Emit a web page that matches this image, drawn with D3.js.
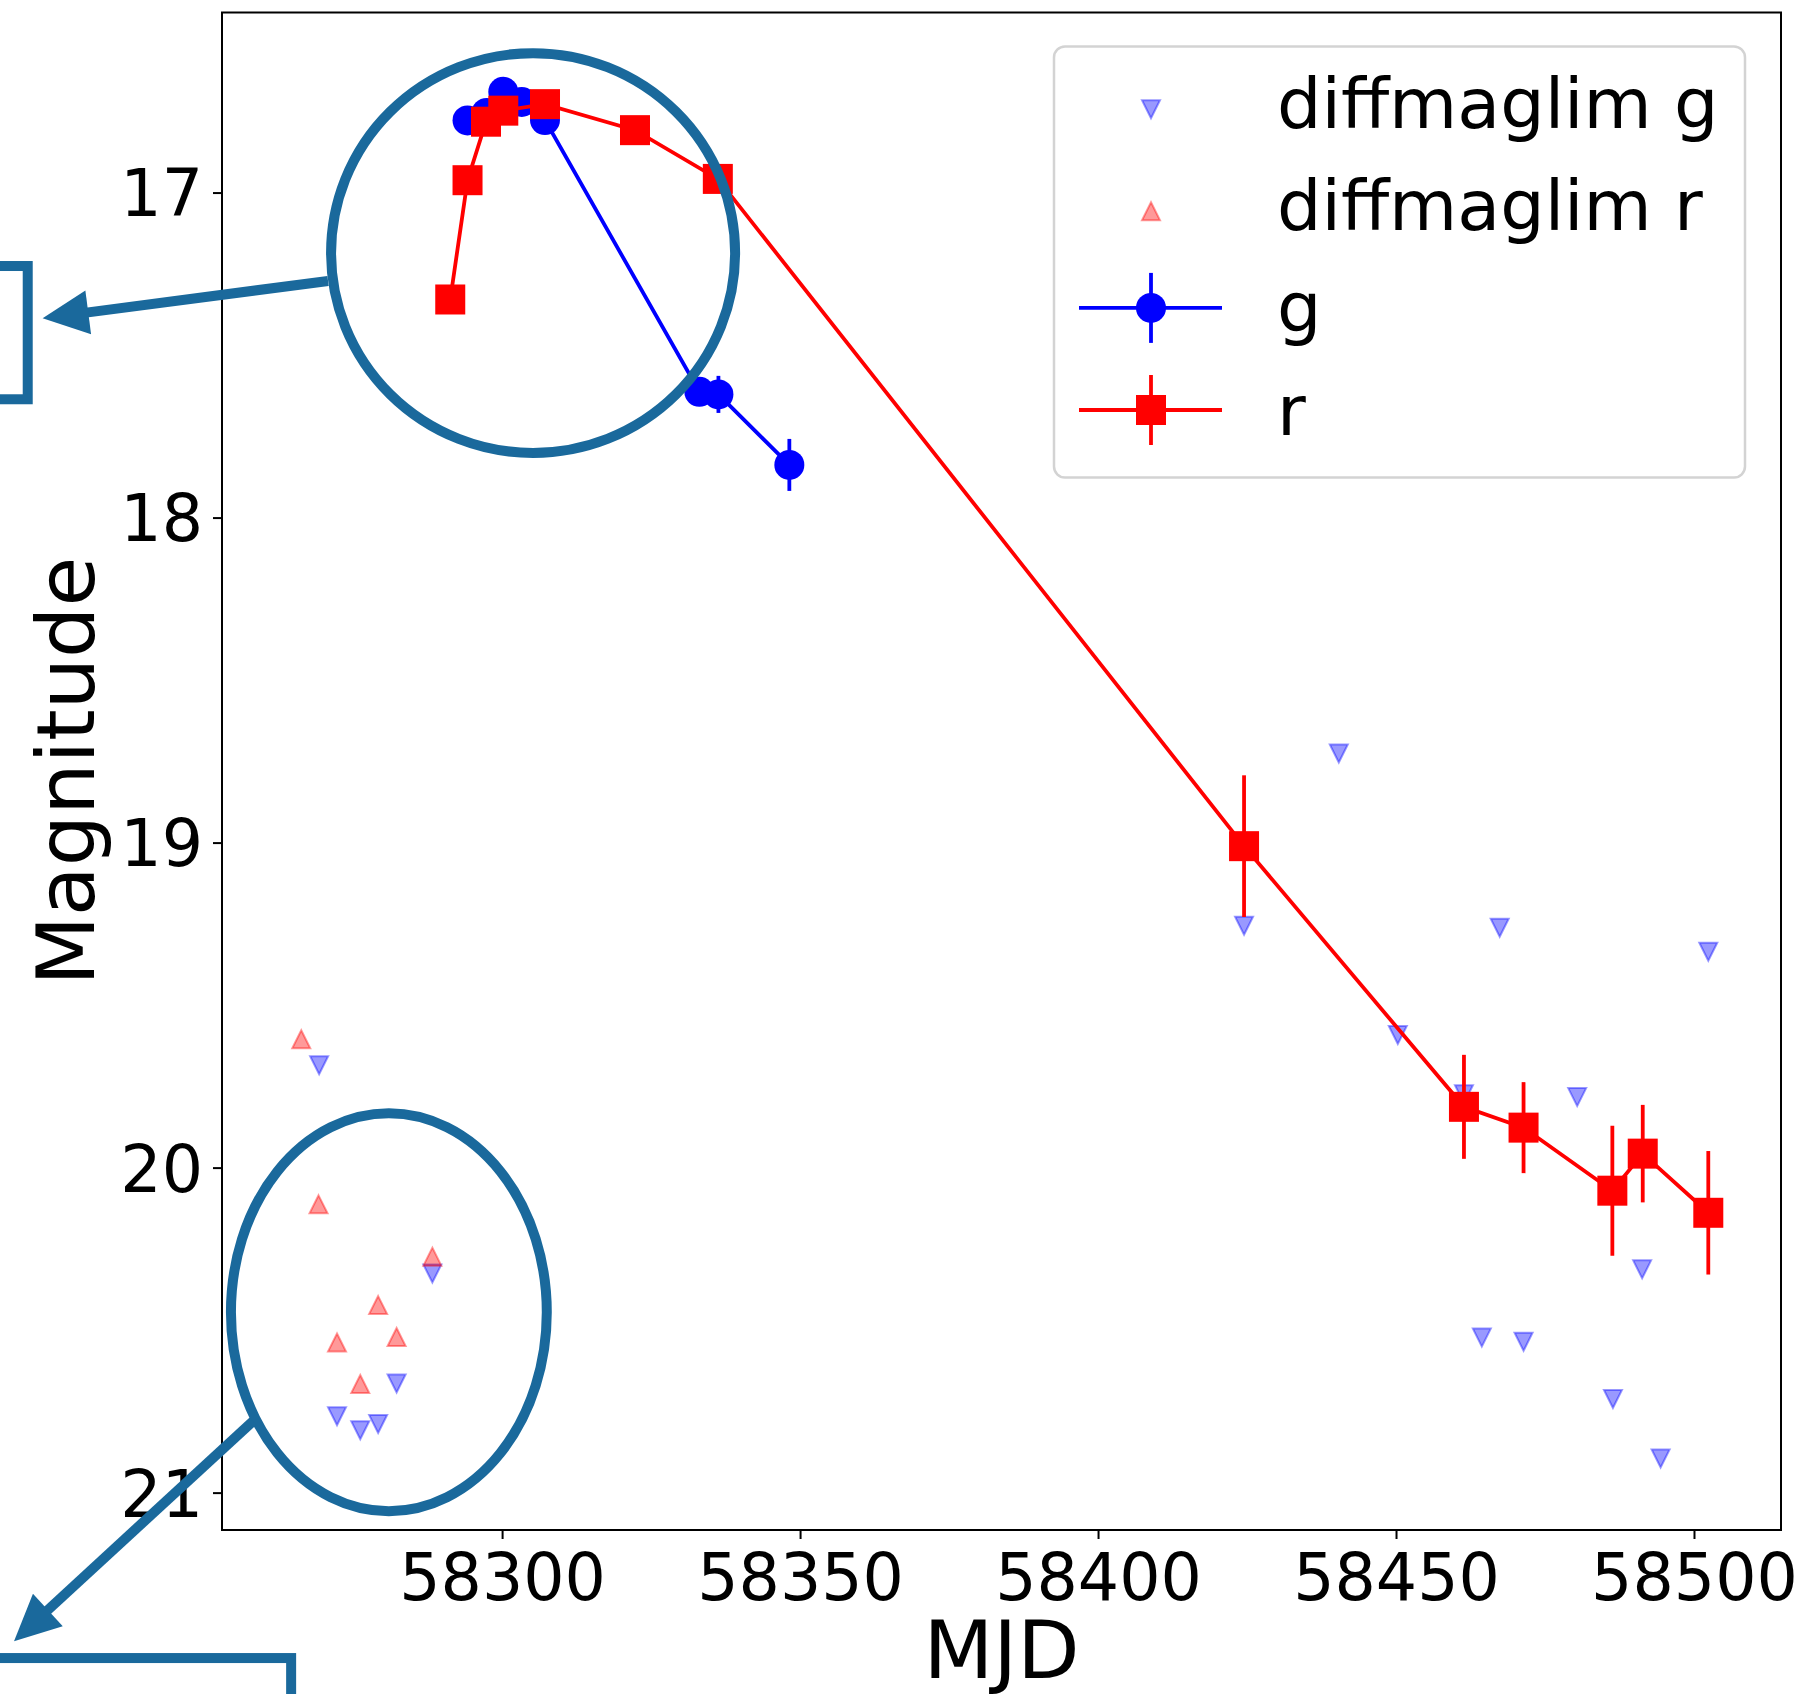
<!DOCTYPE html>
<html>
<head>
<meta charset="utf-8">
<script src="https://cdn.jsdelivr.net/npm/d3@7"></script>
<style>
  html, body { margin: 0; padding: 0; background: #fff; }
  svg { display: block; }
  text { font-family: "DejaVu Sans", sans-serif; }
</style>
</head>
<body>
<svg id="chart" width="1804" height="1694"></svg>
<script>
// ---- photometry: g-band detections ----
const gMjd = [58294.2, 58297.4, 58300.2, 58303.3, 58307.2, 58333.1, 58336.3, 58348.2];
const gMag = [16.778, 16.755, 16.690, 16.721, 16.777, 17.613, 17.621, 17.838];
const gErr = [0.02, 0.02, 0.02, 0.02, 0.02, 0.04, 0.057, 0.08];

// ---- photometry: r-band detections ----
const rMjd = [58291.3, 58294.2, 58297.3, 58300.2, 58307.2, 58322.3, 58336.2,
              58424.5, 58461.4, 58471.4, 58486.3, 58491.4, 58502.4];
const rMag = [17.329, 16.962, 16.782, 16.748, 16.728, 16.808, 16.958,
              19.011, 19.813, 19.877, 20.071, 19.957, 20.139];
const rErr = [0.02, 0.02, 0.02, 0.02, 0.02, 0.02, 0.03,
              0.218, 0.16, 0.14, 0.20, 0.15, 0.19];

// ---- upper limits (diffmaglim) ----
const limGMjd = [58269.3, 58272.3, 58276.2, 58279.2, 58282.3, 58288.3,
                 58424.5, 58440.4, 58450.3, 58461.4, 58464.4, 58467.4,
                 58471.4, 58480.4, 58486.4, 58491.3, 58494.4, 58502.4];
const limGMag = [19.685, 20.765, 20.808, 20.789, 20.664, 20.326,
                 19.256, 18.726, 19.592, 19.774, 20.523, 19.262,
                 20.536, 19.783, 20.712, 20.313, 20.895, 19.336];
const limRMjd = [58266.3, 58269.2, 58272.3, 58276.2, 58279.2, 58282.3, 58288.3];
const limRMag = [19.605, 20.113, 20.538, 20.666, 20.423, 20.521, 20.274];

// ---- axis ticks and labels ----
const xTicks = [58300, 58350, 58400, 58450, 58500];
const yTicks = [17, 18, 19, 20, 21];
const xLabel = "MJD";
const yLabel = "Magnitude";
const legendLabels = ["diffmaglim g", "diffmaglim r", "g", "r"];

// ---- highlight callouts, in data units (MJD, mag) ----
const ellipses = [
  { cx: 58305.2, cy: 17.186, rx: 33.9, ry: 0.615 },
  { cx: 58281.0, cy: 20.445, rx: 26.5, ry: 0.612 }
];
const arrows = [
  { x0: 58270.8, y0: 17.272, x1: 58222.9, y1: 17.387 },
  { x0: 58258.2, y0: 20.780, x1: 58218.1, y1: 21.457 }
];
const boxes = [
  { x0: 58190.0, x1: 58220.4, y0: 17.226, y1: 17.636 },
  { x0: 58190.0, x1: 58264.6, y0: 21.509, y1: 22.300 }
];

// ---- layout ----
const plot = { left: 222, right: 1781, top: 12.5, bottom: 1530 };
const x = d3.scaleLinear().domain([58253.0, 58514.6]).range([plot.left, plot.right]);
const y = d3.scaleLinear().domain([16.446, 21.115]).range([plot.top, plot.bottom]);

const BLUE = "#0000ff", RED = "#ff0000", CALLOUT = "#1a699c";
const MS = 30;      // detection marker size
const TS = 18;      // limit triangle size
const LW = 3.8;     // line width

const svg = d3.select("#chart");

function triPath(dir, s) {
  const h = s / 2;
  return dir === "down"
    ? `M${-h},${-h}L${h},${-h}L0,${h}Z`
    : `M0,${-h}L${h},${h}L${-h},${h}Z`;
}

// ---- axes ----
const xAxis = svg.append("g")
  .attr("transform", `translate(0,${plot.bottom})`)
  .call(d3.axisBottom(x).tickValues(xTicks).tickFormat(d3.format("d")).tickSize(9));
xAxis.select(".domain").remove();
xAxis.selectAll(".tick line").attr("stroke", "#000").attr("stroke-width", 2);
xAxis.selectAll(".tick text")
  .attr("y", 70).attr("dy", 0)
  .attr("font-size", 65).attr("fill", "#000")
  .style("font-family", '"DejaVu Sans", sans-serif');

const yAxis = svg.append("g")
  .attr("transform", `translate(${plot.left},0)`)
  .call(d3.axisLeft(y).tickValues(yTicks).tickFormat(d3.format("d")).tickSize(9));
yAxis.select(".domain").remove();
yAxis.selectAll(".tick line").attr("stroke", "#000").attr("stroke-width", 2);
yAxis.selectAll(".tick text")
  .attr("x", -19).attr("dy", "0.36em")
  .attr("font-size", 65).attr("fill", "#000")
  .style("font-family", '"DejaVu Sans", sans-serif');

svg.append("text")
  .attr("x", (plot.left + plot.right) / 2).attr("y", 1678)
  .attr("text-anchor", "middle").attr("font-size", 81).text(xLabel);
svg.append("text")
  .attr("transform", `translate(94,${(plot.top + plot.bottom) / 2}) rotate(-90)`)
  .attr("text-anchor", "middle").attr("font-size", 81).text(yLabel);

// ---- plotting area ----
const area = svg.append("g");

// upper limits
const limG = limGMjd.map((m, i) => ({ m, v: limGMag[i] }));
const limR = limRMjd.map((m, i) => ({ m, v: limRMag[i] }));

area.append("g").selectAll("path").data(limG).join("path")
  .attr("transform", d => `translate(${x(d.m)},${y(d.v)})`)
  .attr("d", triPath("down", TS))
  .attr("fill", BLUE).attr("fill-opacity", 0.4)
  .attr("stroke", BLUE).attr("stroke-opacity", 0.4).attr("stroke-width", 2);

area.append("g").selectAll("path").data(limR).join("path")
  .attr("transform", d => `translate(${x(d.m)},${y(d.v)})`)
  .attr("d", triPath("up", TS))
  .attr("fill", RED).attr("fill-opacity", 0.4)
  .attr("stroke", RED).attr("stroke-opacity", 0.4).attr("stroke-width", 2);

// detections with error bars
function drawSeries(mjd, mag, err, color, shape) {
  const pts = mjd.map((m, i) => ({ m, v: mag[i], e: err[i] }));
  const g = area.append("g");
  g.append("path").datum(pts)
    .attr("d", d3.line().x(d => x(d.m)).y(d => y(d.v)))
    .attr("fill", "none").attr("stroke", color).attr("stroke-width", LW);
  g.append("g").selectAll("line").data(pts).join("line")
    .attr("x1", d => x(d.m)).attr("x2", d => x(d.m))
    .attr("y1", d => y(d.v - d.e)).attr("y2", d => y(d.v + d.e))
    .attr("stroke", color).attr("stroke-width", LW);
  if (shape === "circle") {
    g.append("g").selectAll("circle").data(pts).join("circle")
      .attr("cx", d => x(d.m)).attr("cy", d => y(d.v)).attr("r", MS / 2)
      .attr("fill", color);
  } else {
    g.append("g").selectAll("rect").data(pts).join("rect")
      .attr("x", d => x(d.m) - MS / 2).attr("y", d => y(d.v) - MS / 2)
      .attr("width", MS).attr("height", MS).attr("fill", color);
  }
}
drawSeries(gMjd, gMag, gErr, BLUE, "circle");
drawSeries(rMjd, rMag, rErr, RED, "square");

// frame
svg.append("rect")
  .attr("x", plot.left).attr("y", plot.top)
  .attr("width", plot.right - plot.left).attr("height", plot.bottom - plot.top)
  .attr("fill", "none").attr("stroke", "#000").attr("stroke-width", 2);

// ---- legend ----
const leg = svg.append("g");
leg.append("rect")
  .attr("x", 1054).attr("y", 46.5).attr("width", 691).attr("height", 431)
  .attr("rx", 11).attr("ry", 11)
  .attr("fill", "#fff").attr("fill-opacity", 0.8)
  .attr("stroke", "#d3d3d3").attr("stroke-width", 2.5);

const hx = 1151, hx0 = 1079, hx1 = 1222, textX = 1277;
legendLabels.forEach((label, i) => {
  const base = 128.2 + i * 102.1;
  const isLim = i < 2;
  const my = base - (isLim ? 19 : 24.5);
  const color = (i % 2 === 0) ? BLUE : RED;
  if (isLim) {
    leg.append("path")
      .attr("transform", `translate(${hx},${my})`)
      .attr("d", triPath(i === 0 ? "down" : "up", TS))
      .attr("fill", color).attr("fill-opacity", 0.4)
      .attr("stroke", color).attr("stroke-opacity", 0.4).attr("stroke-width", 2);
  } else {
    leg.append("line").attr("x1", hx0).attr("x2", hx1).attr("y1", my).attr("y2", my)
      .attr("stroke", color).attr("stroke-width", LW);
    leg.append("line").attr("x1", hx).attr("x2", hx).attr("y1", my - 35).attr("y2", my + 35)
      .attr("stroke", color).attr("stroke-width", LW);
    if (i === 2) {
      leg.append("circle").attr("cx", hx).attr("cy", my).attr("r", MS / 2).attr("fill", color);
    } else {
      leg.append("rect").attr("x", hx - MS / 2).attr("y", my - MS / 2)
        .attr("width", MS).attr("height", MS).attr("fill", color);
    }
  }
  leg.append("text").attr("x", textX).attr("y", base)
    .attr("font-size", 70).attr("fill", "#000").text(label);
});

// ---- callouts ----
const ann = svg.append("g").attr("fill", "none").attr("stroke", CALLOUT).attr("stroke-width", 10);

ellipses.forEach(e => {
  ann.append("ellipse")
    .attr("cx", x(e.cx)).attr("cy", y(e.cy))
    .attr("rx", x(e.cx + e.rx) - x(e.cx)).attr("ry", y(e.cy + e.ry) - y(e.cy));
});

arrows.forEach(a => {
  const sx = x(a.x0), sy = y(a.y0), tx = x(a.x1), ty = y(a.y1);
  const dx = tx - sx, dy = ty - sy, len = Math.hypot(dx, dy);
  const ux = dx / len, uy = dy / len;
  const headLen = 46, headHalf = 22;
  const bx = tx - ux * headLen, by = ty - uy * headLen;
  ann.append("line").attr("x1", sx).attr("y1", sy).attr("x2", bx + ux * 2).attr("y2", by + uy * 2);
  ann.append("path")
    .attr("d", `M${tx},${ty}L${bx - uy * headHalf},${by + ux * headHalf}L${bx + uy * headHalf},${by - ux * headHalf}Z`)
    .attr("fill", CALLOUT).attr("stroke", "none");
});

boxes.forEach(b => {
  ann.append("rect")
    .attr("x", x(b.x0)).attr("y", y(b.y0))
    .attr("width", x(b.x1) - x(b.x0)).attr("height", y(b.y1) - y(b.y0));
});
</script>
</body>
</html>
